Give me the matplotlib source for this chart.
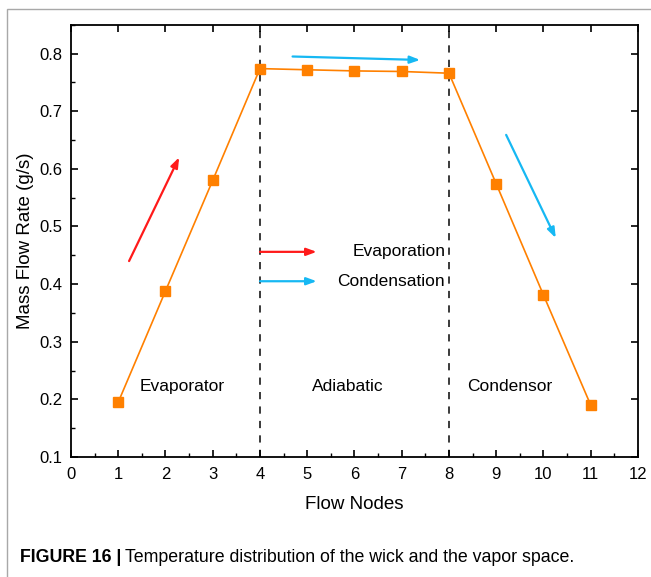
import matplotlib.pyplot as plt
from matplotlib.patches import Rectangle
from matplotlib.ticker import MultipleLocator

plt.rcParams['font.family'] = ['Liberation Sans', 'DejaVu Sans']

# mass flow rate along the heat pipe nodes
nodes = [1, 2, 3, 4, 5, 6, 7, 8, 9, 10, 11]
mass_flow = [0.195, 0.388, 0.580, 0.774, 0.772, 0.770, 0.769, 0.766, 0.574, 0.381, 0.190]

section_bounds = [4, 8]
section_names = ['Evaporator', 'Adiabatic', 'Condensor']
section_x = [2.35, 5.86, 9.29]
section_y = 0.222

# direction arrows: (x0, y0, x1, y1)
evap_arrow = (1.23, 0.440, 2.29, 0.620)
cond_arrows = [(4.69, 0.795, 7.39, 0.789), (9.21, 0.659, 10.26, 0.480)]

red = '#ff1a1a'
blue = '#16b8f3'
orange = '#ff8000'

fig = plt.figure(figsize=(6.51, 5.77), dpi=100)
ax = fig.add_axes([0.109, 0.208, 0.871, 0.749])

# light frame around the figure panel
fig.patches.append(Rectangle((7 / 651, -0.05), 1.1, 1 - 9 / 577 + 0.05,
                             transform=fig.transFigure, fill=False,
                             edgecolor='#a8a8a8', linewidth=1.0))

for xb in section_bounds:
    ax.axvline(xb, color='#2b2b2b', linestyle=(0, (4, 4)), linewidth=1.3, zorder=1)

ax.plot(nodes, mass_flow, color=orange, linewidth=1.2, marker='s',
        markersize=7.5, markerfacecolor=orange, markeredgecolor=orange, zorder=3)


def arrow(x0, y0, x1, y1, color):
    ax.annotate('', xy=(x1, y1), xytext=(x0, y0),
                arrowprops=dict(arrowstyle='-|>,head_length=0.6,head_width=0.22',
                                color=color, linewidth=1.6,
                                shrinkA=0, shrinkB=0))


arrow(*evap_arrow, red)
for a in cond_arrows:
    arrow(*a, blue)

# key for the arrows
arrow(4.0, 0.456, 5.2, 0.456, red)
arrow(4.0, 0.405, 5.2, 0.405, blue)
ax.text(7.92, 0.456, 'Evaporation', ha='right', va='center', fontsize=12.5)
ax.text(7.92, 0.405, 'Condensation', ha='right', va='center', fontsize=12.5)

for name, sx in zip(section_names, section_x):
    ax.text(sx, section_y, name, ha='center', va='center', fontsize=12.5)

ax.set_xlim(0, 12)
ax.set_ylim(0.1, 0.85)
ax.xaxis.set_major_locator(MultipleLocator(1))
ax.xaxis.set_minor_locator(MultipleLocator(0.5))
ax.yaxis.set_major_locator(MultipleLocator(0.1))
ax.yaxis.set_minor_locator(MultipleLocator(0.05))
ax.yaxis.set_major_formatter(plt.FuncFormatter(lambda v, p: f'{v:.1f}'))
ax.tick_params(which='major', direction='in', length=5, width=1.2,
               top=True, right=True, labelsize=12)
ax.tick_params(axis='x', pad=7)
ax.tick_params(axis='y', pad=6)
ax.tick_params(which='minor', direction='in', length=3, width=1.0)
for s in ax.spines.values():
    s.set_linewidth(1.3)

ax.set_xlabel('Flow Nodes', fontsize=13.5, labelpad=10)
ax.set_ylabel('Mass Flow Rate (g/s)', fontsize=13.5, labelpad=4)

# caption: bold figure number followed by the description
cap_y = 1 - 558 / 577
head = fig.text(20 / 651, cap_y, 'FIGURE 16 |', fontsize=12.8, fontweight='bold',
                va='center', ha='left')
fig.canvas.draw()
bb = head.get_window_extent().transformed(fig.transFigure.inverted())
fig.text(bb.x1 + 4 / 651, cap_y,
         'Temperature distribution of the wick and the vapor space.',
         fontsize=12.8, va='center', ha='left')

fig.savefig('out.png', dpi=100)
